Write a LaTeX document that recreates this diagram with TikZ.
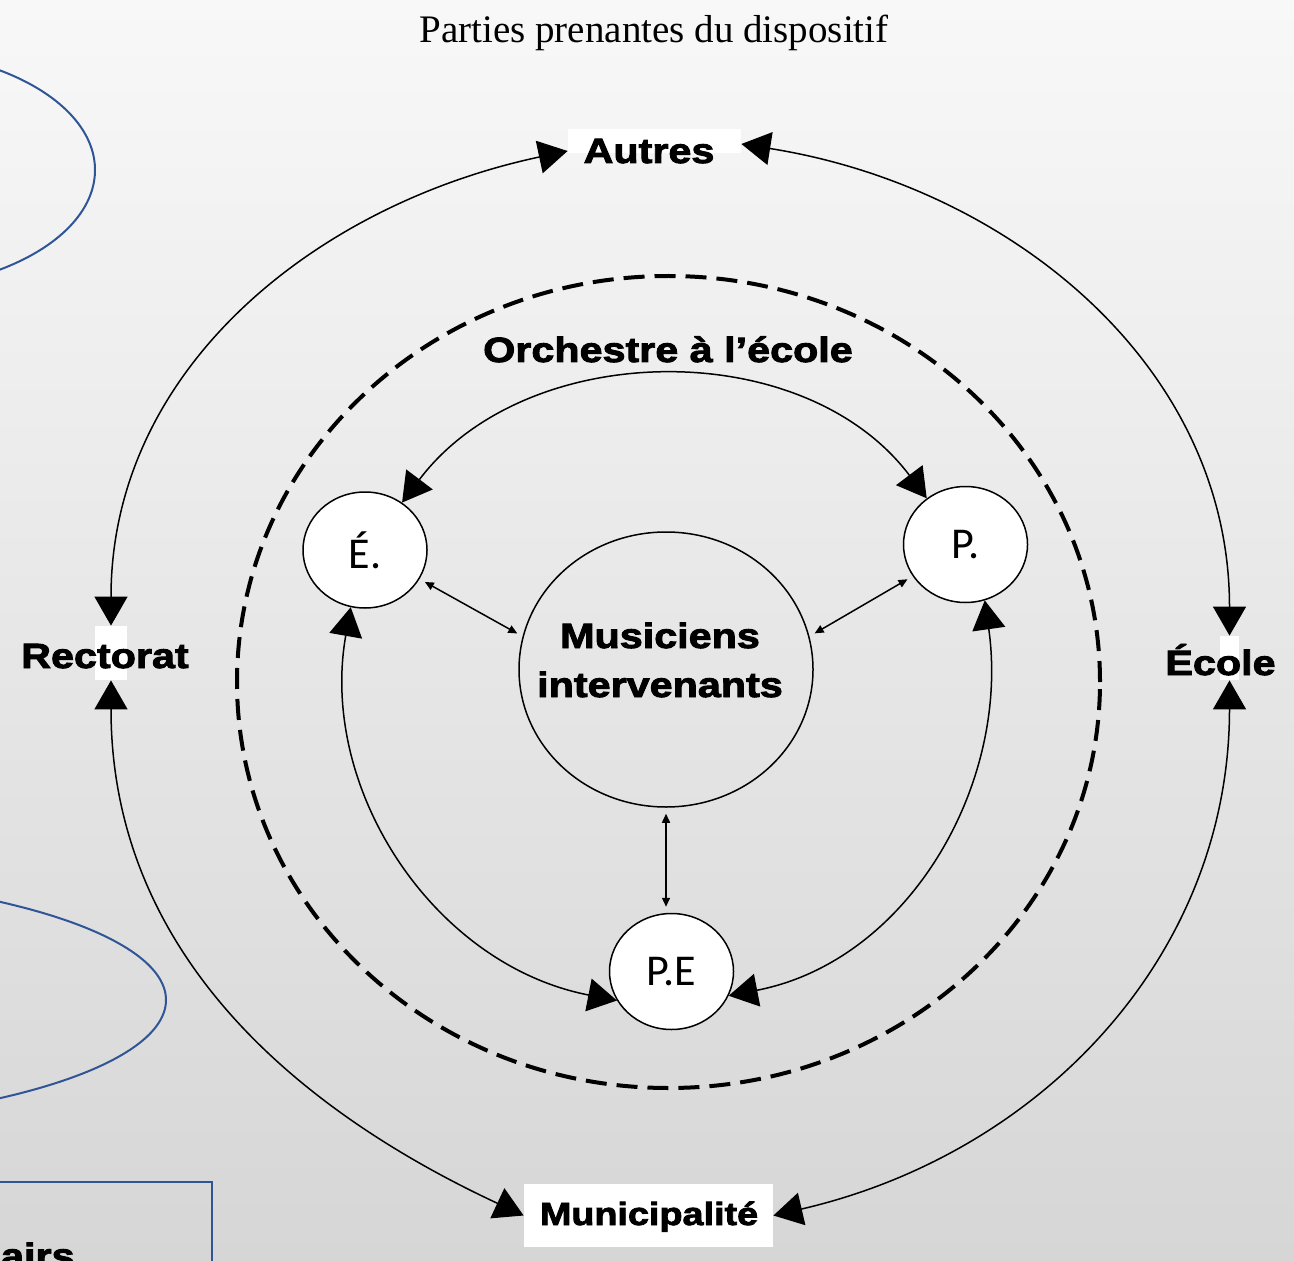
\documentclass[tikz,border=0pt]{standalone}
\usepackage{fontspec}
\setmainfont{Liberation Serif}
\newfontfamily\heavy[FakeStretch=1.18,FakeBold=2.6]{Liberation Sans Bold}
\newfontfamily\circfont{Carlito}
\usetikzlibrary{arrows.meta,shapes.geometric}
\definecolor{bgtop}{RGB}{248,248,248}
\definecolor{bgbot}{RGB}{214,214,214}
\definecolor{bluel}{RGB}{47,85,151}
\tikzset{
  conn/.style={line width=0.75pt,{Triangle[length=14.5pt,width=16.5pt]}-{Triangle[length=14.5pt,width=16.5pt]}},
  sconn/.style={line width=0.75pt,{Triangle[length=4.5pt,width=4pt]}-{Triangle[length=4.5pt,width=4pt]},shorten <=3pt,shorten >=3pt},
  smallcirc/.style={ellipse,draw,line width=0.75pt,fill=white,minimum width=62pt,minimum height=58pt,inner sep=0pt,font=\circfont\fontsize{22pt}{26pt}\selectfont},
  bigcirc/.style={ellipse,draw,line width=0.75pt,minimum width=147pt,minimum height=137.5pt,inner sep=0pt},
  wbox/.style={fill=white,draw=none,inner sep=0pt},
  lbl/.style={font=\heavy\fontsize{17.5pt}{21pt}\selectfont,inner sep=0pt,anchor=base},
  blueline/.style={draw=bluel,line width=1pt},
  ring/.style={line width=2pt,dash pattern=on 10.5pt off 5pt}
}
\begin{document}
\begin{tikzpicture}[x=0.5pt,y=0.5pt]
\useasboundingbox (0,0) rectangle (1294,-1261);
\clip (0,0) rectangle (1294,-1261);
\shade[top color=bgtop,bottom color=bgbot] (0,0) rectangle (1294,-1261);

% blue shapes at the left edge
\draw[blueline] (-120,-170) ellipse [x radius=215,y radius=120];
\draw[blueline] (-270,-1000) ellipse [x radius=436,y radius=125];
\draw[blueline] (-20,-1182) rectangle (212,-1320);
\node[lbl,anchor=base east] (airs) at (75,-1268) {airs};

% dashed ring
\draw[ring] (668.5,-682) ellipse [x radius=431.5,y radius=406];

% white boxes of the outer labels
\node[wbox,minimum width=86.5pt,minimum height=12pt] (autres) at (654.5,-141) {};
\node[wbox,minimum width=16pt,minimum height=27pt] (rectorat) at (111,-653) {};
\node[wbox,minimum width=9.5pt,minimum height=22pt] (ecole) at (1229.5,-658) {};
\node[wbox,minimum width=124.5pt,minimum height=31.5pt] (munic) at (648.5,-1215.5) {};

% circles
\node[bigcirc] (M) at (666,-669.5) {};
\node[smallcirc] (E) at (365,-550) {É.};
\node[smallcirc] (P) at (965.5,-544.5) {P.};
\node[smallcirc] (PE) at (671.5,-971.5) {P.E};

% outer connectors
\draw[conn] (rectorat.north) to[out=90,in=-168] ([yshift=-5pt]autres.west);
\draw[conn] (ecole.north) to[out=90,in=-9] ([yshift=-1.5pt]autres.east);
\draw[conn] (rectorat.south) to[out=-90,in=155] (munic.west);
\draw[conn] (munic.east) to[out=13,in=-90] (ecole.south);

% inner connectors
\draw[conn] (E.52) to[out=53,in=127] (P.130);
\draw[conn] (E.256) to[out=260,in=169] (PE.208);
\draw[conn] (P.-71) to[out=-82,in=11] (PE.-23);

% small connectors
\draw[sconn] (E.-28) -- (M.167);
\draw[sconn] (P.211.6) -- (M.13);
\draw[sconn] (M.south) -- (M.south |- PE.north);

% texts
\node[font=\fontsize{19.5pt}{23pt}\selectfont,anchor=base,inner sep=0pt] (title) at (654,-43) {Parties prenantes du dispositif};
\node[lbl] (autrestxt) at (649,-163) {Autres};
\node[lbl] (recttxt) at (105,-668) {Rectorat};
\node[lbl] (ecoletxt) at (1220.5,-675) {École};
\node[lbl,font=\heavy\fontsize{16pt}{19pt}\selectfont] (munictxt) at (649,-1225) {Municipalité};
\node[lbl] (orch) at (668,-362) {Orchestre à l’école};
\node[lbl] (mt1) at (660,-648) {Musiciens};
\node[lbl] (mt2) at (660,-697) {intervenants};
\end{tikzpicture}
\end{document}
